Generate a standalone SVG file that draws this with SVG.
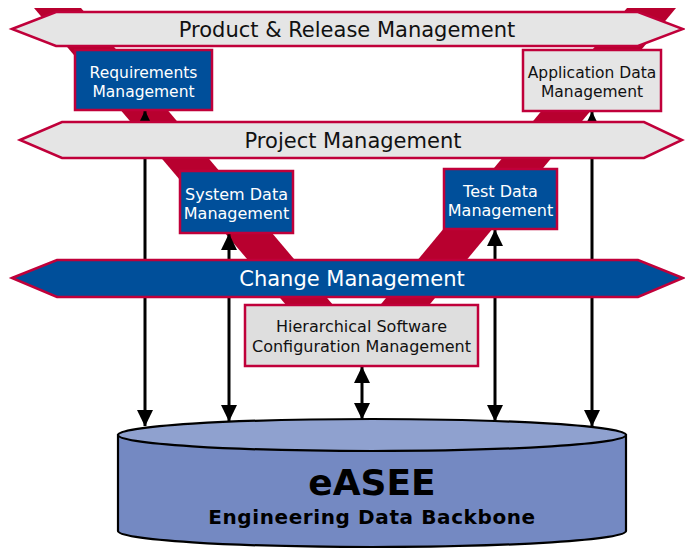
<svg xmlns="http://www.w3.org/2000/svg" width="685" height="548" viewBox="0 0 685 548">
<style>
.band{fill:#b8002f}
.bn{stroke:#c0003a;stroke-width:2.5}
.gray{fill:#e5e5e5}
.blue{fill:#004f9a}
.box{stroke:#c0003a;stroke-width:2.5}
.t{font-family:"DejaVu Sans",Verdana,sans-serif;text-anchor:middle}
.big{font-size:21px;fill:#111}
.wt{fill:#ffffff}
.bt{fill:#111}
.sm{font-size:15.5px}
.md{font-size:16px}
.arr{stroke:#000;stroke-width:3;fill:none;marker-start:url(#ah);marker-end:url(#ah)}
</style>
<defs>
<marker id="ah" markerUnits="userSpaceOnUse" markerWidth="18" markerHeight="18" refX="16" refY="9" orient="auto-start-reverse" viewBox="0 0 18 18">
<path d="M0,1 L16.5,9 L0,17 Z" fill="#000"/>
</marker>
</defs>
<g id="bands">
<polygon class="band" points="34,8 81,8 367,345 320,345"/>
<polygon class="band" points="627,8 676,8 396,345 347,345"/>
</g>
<g id="connectors">
<line class="arr" x1="145" y1="111" x2="145" y2="426"/>
<line class="arr" x1="229" y1="234" x2="229" y2="421"/>
<line class="arr" x1="362" y1="367" x2="362" y2="419"/>
<line class="arr" x1="495" y1="230" x2="495" y2="421"/>
<line class="arr" x1="592" y1="112" x2="592" y2="426"/>
</g>
<g id="product-release">
<path class="bn gray" d="M12,29 L56,12 L638,12 L683,29 L638,46 L56,46 Z"/>
<text class="t big" x="347" y="36.5">Product &amp; Release Management</text>
</g>
<g id="requirements">
<rect class="box blue" x="75" y="50" width="137" height="60"/>
<text class="t sm wt" x="143.5" y="78">Requirements</text>
<text class="t sm wt" x="143.5" y="97">Management</text>
</g>
<g id="application-data">
<rect class="box gray" x="523" y="50" width="138" height="61"/>
<text class="t sm bt" x="592" y="78">Application Data</text>
<text class="t sm bt" x="592" y="97">Management</text>
</g>
<g id="project">
<path class="bn gray" d="M20,140 L62,122 L644,122 L682,140 L644,158 L62,158 Z"/>
<text class="t big" x="353" y="148">Project Management</text>
</g>
<g id="system-data">
<rect class="box blue" x="180" y="171" width="113" height="62"/>
<text class="t md wt" x="236.5" y="199.5">System Data</text>
<text class="t md wt" x="236.5" y="218.5">Management</text>
</g>
<g id="test-data">
<rect class="box blue" x="444" y="169" width="113" height="60"/>
<text class="t md wt" x="500.5" y="196.5">Test Data</text>
<text class="t md wt" x="500.5" y="215.5">Management</text>
</g>
<g id="change">
<path class="bn blue" d="M12,278 L57,260 L638,260 L683,278 L638,297 L57,297 Z"/>
<text class="t big wt" x="352" y="286">Change Management</text>
</g>
<g id="hscm">
<rect class="box" fill="#dedede" x="245" y="305" width="233" height="61"/>
<text class="t md bt" x="361.5" y="332">Hierarchical Software</text>
<text class="t md bt" x="361.5" y="351.5">Configuration Management</text>
</g>
<g id="easee">
<path d="M118,435 L118,531 A254,16 0 0 0 626,531 L626,435 Z" fill="#7489c2" stroke="#000" stroke-width="2.2"/>
<ellipse cx="372" cy="435" rx="254" ry="16" fill="#8fa1cf" stroke="#000" stroke-width="2.2"/>
<text class="t" x="372" y="495" font-size="36" font-weight="bold" fill="#000">eASEE</text>
<text class="t" x="372" y="524" font-size="20" font-weight="bold" letter-spacing="0.6" fill="#000">Engineering Data Backbone</text>
</g>
</svg>
